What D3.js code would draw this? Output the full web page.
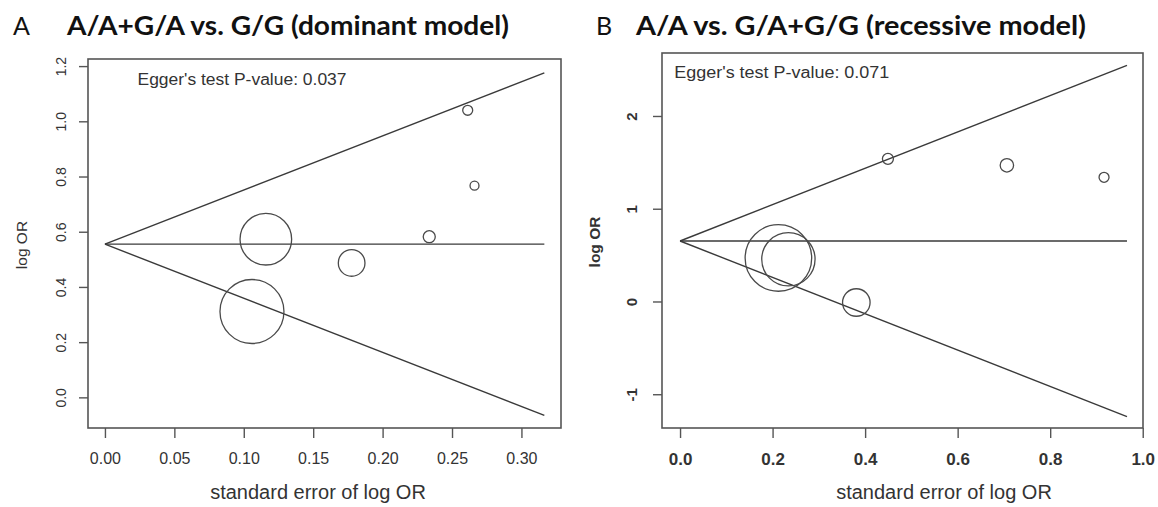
<!DOCTYPE html>
<html><head><meta charset="utf-8">
<script src="https://cdn.jsdelivr.net/npm/d3@7"></script>
<style>html,body{margin:0;padding:0;background:#fff}</style>
</head><body><svg id="chart" width="1158" height="507"></svg>
<script>
// ---------- data ----------
const panelLetters = ["A", "B"];
const panelTitles = ["A/A+G/A vs. G/G (dominant model)", "A/A vs. G/A+G/G (recessive model)"];
const eggerPValues = ["0.037", "0.071"];
const xAxisTitle = "standard error of log OR";
const yAxisTitle = "log OR";

const seA = [0.2613, 0.2662, 0.2336, 0.1159, 0.1777, 0.1059];
const logOrA = [1.040, 0.767, 0.582, 0.573, 0.487, 0.311];
const weightA = [5.8, 5.2, 7.0, 30.0, 15.5, 37.2];
const pooledA = 0.555;
const seMaxA = 0.3165;
const xTicksA = [0, 0.05, 0.10, 0.15, 0.20, 0.25, 0.30];
const yTicksA = [0, 0.2, 0.4, 0.6, 0.8, 1.0, 1.2];
const xDomainA = [-0.0122, 0.3285];
const yDomainA = [-0.111, 1.2257];

const seB = [0.4493, 0.7064, 0.9164, 0.2126, 0.2342, 0.3810];
const logOrB = [1.538, 1.468, 1.339, 0.469, 0.455, -0.011];
const weightB = [6.4, 7.8, 5.8, 38.7, 31.0, 16.0];
const pooledB = 0.652;
const seMaxB = 0.966;
const xTicksB = [0, 0.2, 0.4, 0.6, 0.8, 1.0];
const yTicksB = [-1, 0, 1, 2];
const xDomainB = [-0.039, 1.0006];
const yDomainB = [-1.364, 2.679];

// ---------- layout ----------
const panels = [
  { letter: panelLetters[0], title: panelTitles[0], p: eggerPValues[0],
    se: seA, lor: logOrA, w: weightA, pooled: pooledA, seMax: seMaxA,
    xTicks: xTicksA, yTicks: yTicksA, xDom: xDomainA, yDom: yDomainA,
    xFmt: d3.format(".2f"), yFmt: d3.format(".1f"), bold: false,
    box: { x0: 88, x1: 561, y0: 59, y1: 428 },
    letterX: 13, titleX: 67, titleW: 442,
    eggerX: 137.5, eggerY: 85, eggerW: 209,
    yTickDist: 26.5, yLabX: 21.7, yLabY: 245, xLabX: 318, xFont: 16, yFont: 14 },
  { letter: panelLetters[1], title: panelTitles[1], p: eggerPValues[1],
    se: seB, lor: logOrB, w: weightB, pooled: pooledB, seMax: seMaxB,
    xTicks: xTicksB, yTicks: yTicksB, xDom: xDomainB, yDom: yDomainB,
    xFmt: d3.format(".1f"), yFmt: d => String(d), bold: true,
    box: { x0: 662, x1: 1143, y0: 53, y1: 428 },
    letterX: 596, titleX: 636, titleW: 450,
    eggerX: 674.3, eggerY: 78, eggerW: 215,
    yTickDist: 30.6, yLabX: 595, yLabY: 242, xLabX: 944, xFont: 17, yFont: 15 }
];

const svg = d3.select("#chart");
const rScale = d3.scaleLinear().domain([0, 100]).range([0, 86]);
const ink = "#3a3a3a";
const sans = "'Liberation Sans', Arial, sans-serif";

panels.forEach(P => {
  const b = P.box;
  const x = d3.scaleLinear().domain(P.xDom).range([b.x0, b.x1]);
  const y = d3.scaleLinear().domain(P.yDom).range([b.y1, b.y0]);
  const g = svg.append("g");

  // panel letter + title
  g.append("text").attr("x", P.letterX).attr("y", 35)
    .attr("font-family", "Lato, 'Open Sans', sans-serif").attr("font-size", 25)
    .attr("fill", "#111").text(P.letter);
  g.append("text").attr("x", P.titleX).attr("y", 35)
    .attr("font-family", "Lato, 'Open Sans', sans-serif").attr("font-size", 27)
    .attr("font-weight", "bold").attr("fill", "#111")
    .attr("textLength", P.titleW).attr("lengthAdjust", "spacingAndGlyphs")
    .text(P.title);

  // axes
  const xAxis = d3.axisBottom(x).tickValues(P.xTicks).tickFormat(P.xFmt)
    .tickSize(10).tickPadding(15);
  const gx = g.append("g").attr("transform", `translate(0,${b.y1})`).call(xAxis);
  gx.select(".domain").remove();
  gx.selectAll(".tick line").attr("stroke", "#555").attr("stroke-width", 1.4);
  gx.selectAll(".tick text").attr("font-family", sans).attr("font-size", P.xFont)
    .attr("fill", "#333").attr("font-weight", P.bold ? "bold" : "normal");

  const yAxis = d3.axisLeft(y).tickValues(P.yTicks).tickFormat(P.yFmt).tickSize(9);
  const gy = g.append("g").attr("transform", `translate(${b.x0},0)`).call(yAxis);
  gy.select(".domain").remove();
  gy.selectAll(".tick line").attr("stroke", "#555").attr("stroke-width", 1.4);
  gy.selectAll(".tick text").attr("font-family", sans).attr("font-size", P.yFont)
    .attr("fill", "#333").attr("font-weight", P.bold ? "bold" : "normal")
    .attr("x", 0).attr("y", 0).attr("dy", "0.35em").attr("text-anchor", "middle")
    .attr("transform", `translate(${-P.yTickDist},0) rotate(-90)`);

  // box
  g.append("rect").attr("x", b.x0).attr("y", b.y0)
    .attr("width", b.x1 - b.x0).attr("height", b.y1 - b.y0)
    .attr("fill", "none").attr("stroke", "#555").attr("stroke-width", 1.6);

  // funnel lines
  const lineStyle = sel => sel.attr("stroke", ink).attr("stroke-width", 1.4).attr("fill", "none");
  const line = d3.line().x(d => x(d[0])).y(d => y(d[1]));
  const funnel = [
    [[0, P.pooled], [P.seMax, P.pooled + 1.96 * P.seMax]],
    [[0, P.pooled], [P.seMax, P.pooled]],
    [[0, P.pooled], [P.seMax, P.pooled - 1.96 * P.seMax]]
  ];
  funnel.forEach(seg => g.append("path").attr("d", line(seg)).call(lineStyle));

  // studies
  const studies = P.se.map((s, i) => ({ se: s, lor: P.lor[i], w: P.w[i] }));
  g.selectAll("circle.study").data(studies).enter().append("circle")
    .attr("class", "study")
    .attr("cx", d => x(d.se)).attr("cy", d => y(d.lor)).attr("r", d => rScale(d.w))
    .attr("fill", "none").attr("stroke", "#4a4a4a").attr("stroke-width", 1.3);

  // Egger text
  g.append("text").attr("x", P.eggerX).attr("y", P.eggerY)
    .attr("font-family", sans).attr("font-size", 16).attr("fill", "#333")
    .attr("textLength", P.eggerW).attr("lengthAdjust", "spacingAndGlyphs")
    .text("Egger's test P-value: " + P.p);

  // axis titles
  g.append("text").attr("x", P.xLabX).attr("y", 499).attr("text-anchor", "middle")
    .attr("font-family", sans).attr("font-size", 20).attr("fill", "#333")
    .text(xAxisTitle);
  g.append("text").attr("transform", `translate(${P.yLabX},${P.yLabY}) rotate(-90)`)
    .attr("text-anchor", "middle").attr("dy", "0.35em")
    .attr("font-family", sans).attr("font-size", 15.5).attr("fill", "#333")
    .attr("font-weight", P.bold ? "bold" : "normal")
    .text(yAxisTitle);
});
</script>
</body></html>
